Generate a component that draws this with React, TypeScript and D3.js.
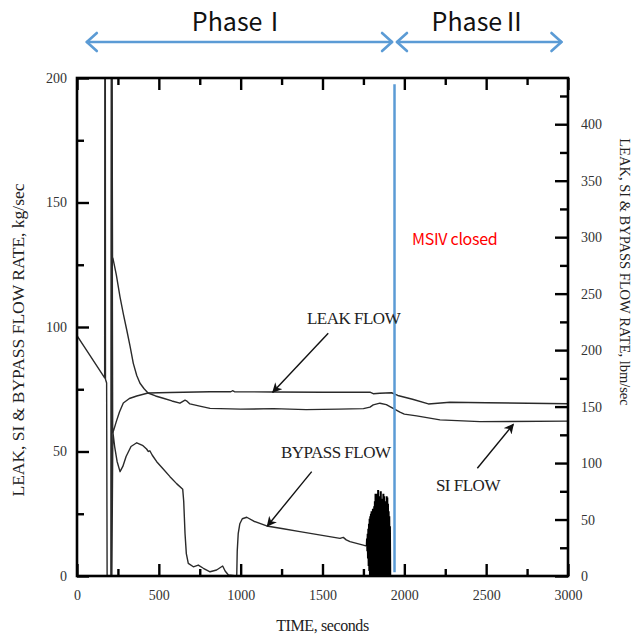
import React, { useEffect, useRef } from 'react';
import * as d3 from 'd3';

const KG_TO_LBM = 2.20462;

// [time s, flow kg/s]
const leakFlow: [number, number][] = [
  [0, 96.5], [60, 90.5], [120, 84.5], [165, 80], [169, 79.5], [170, 205], [173, 205], [174, 79],
  [181, 77.5], [184, 0], [208, 0], [210, 205], [213, 205], [218, 57.5], [224, 58.5], [240, 62],
  [260, 66], [283, 69.5], [320, 71.3], [365, 72.3], [434, 73.5], [568, 73.7], [813, 74], [940, 74],
  [950, 74.4], [962, 74], [1200, 73.9], [1500, 73.8], [1790, 73.8], [1810, 73.2], [1850, 73.4],
  [1922, 73.6], [1960, 72.5], [2050, 71], [2147, 69.1], [2279, 69.8], [2500, 69.6], [3000, 69.2],
];

const siFlow: [number, number][] = [
  [0, 0], [209, 0], [211, 205], [214, 205], [217, 128], [220, 127.5], [240, 121], [263, 112],
  [284, 105], [304, 98.8], [325, 92], [344, 85.4], [365, 80.5], [385, 77.4], [410, 75.2], [434, 73.5],
  [480, 72.3], [527, 71.4], [580, 70.3], [629, 69.4], [660, 70.6], [672, 70.2], [690, 69.1],
  [750, 68.2], [813, 67.3], [1000, 67], [1200, 67.2], [1400, 66.8], [1600, 67], [1750, 67.2],
  [1790, 67.8], [1810, 68.7], [1851, 69.4], [1890, 68.8], [1912, 68], [1940, 67], [1973, 65.8],
  [2000, 65], [2075, 64.3], [2218, 62.7], [2462, 62], [3000, 62.2],
];

const bypassFlow: [number, number][] = [
  [0, 0], [213, 0], [219, 58], [230, 52], [245, 46], [263, 41.9], [280, 44], [300, 48], [330, 52],
  [365, 53.5], [400, 52.5], [425, 51], [436, 50], [445, 50.3], [460, 48.5], [487, 45.9], [520, 43.5],
  [568, 39.9], [610, 37], [646, 34.8], [652, 30], [660, 17.1], [668, 9], [680, 5.1], [711, 3.7],
  [741, 4.4], [772, 3.1], [813, 1.7], [853, 2.4], [890, 4], [905, 2], [925, 0.4], [976, 0], [979, 10],
  [985, 17], [995, 21], [1010, 23], [1037, 23.6], [1080, 22], [1159, 20.1], [1260, 19], [1362, 17.8],
  [1480, 16.5], [1607, 15.1], [1627, 15.5], [1645, 14.5], [1668, 13.8], [1749, 12.4], [1770, 12],
];

// the black band of oscillations just before MSIV closure
const bypassOscillation: [number, number][] = [
  [1770, 12], [1772, 15], [1774, 10], [1776, 17], [1778, 7], [1780, 19], [1782, 4], [1784, 21],
  [1786, 2], [1788, 23], [1790, 0], [1792, 24], [1794, 0], [1796, 25], [1798, 0], [1800, 26],
  [1802, 0], [1804, 26], [1806, 0], [1808, 27], [1810, 0], [1812, 27], [1814, 0], [1816, 28],
  [1818, 0], [1820, 30], [1822, 0], [1824, 33], [1826, 0], [1828, 31], [1830, 0], [1832, 29],
  [1834, 0], [1836, 33], [1838, 0], [1840, 34.5], [1842, 0], [1844, 30], [1846, 0], [1848, 28],
  [1850, 0], [1852, 32], [1854, 0], [1856, 34], [1858, 0], [1860, 30], [1862, 0], [1864, 28],
  [1866, 0], [1868, 31], [1870, 0], [1872, 33], [1874, 0], [1876, 32], [1878, 0], [1880, 28],
  [1882, 0], [1884, 27], [1886, 0], [1888, 30], [1890, 0], [1892, 32], [1894, 0], [1896, 31.5],
  [1898, 0], [1900, 29], [1902, 0], [1904, 26], [1906, 0], [1908, 24], [1910, 0], [1912, 20],
  [1914, 0],
];

const bypassTail: [number, number][] = [[1914, 0], [3000, 0]];

const xTicks = [0, 500, 1000, 1500, 2000, 2500, 3000];
const xMinorTicks = [250, 750, 1250, 1750, 2250, 2750];
const yTicks = [0, 50, 100, 150, 200];
const yMinorTicks = [25, 75, 125, 175];
const y2Ticks = [0, 50, 100, 150, 200, 250, 300, 350, 400];
const y2MinorTicks = [25, 75, 125, 175, 225, 275, 325, 375, 425];

const msivTime = 1940;
const phaseLabels = ['Phase Ⅰ', 'Phase Ⅱ'];
const phaseStart = [60, 1955];
const phaseEnd = [1925, 2960];

// curve annotations: text anchor and arrow (from -> to), in data units
const noteText = ['LEAK FLOW', 'BYPASS FLOW', 'SI FLOW'];
const noteAt: [number, number][] = [[1405, 101.2], [1246, 47.4], [2193, 34.1]];
const arrowFrom: [number, number][] = [[1535, 97.5], [1434, 41.9], [2446, 43.3]];
const arrowTo: [number, number][] = [[1196, 73.8], [1163, 20.1], [2666, 60.9]];

const App = () => {
  const svgRef = useRef<SVGSVGElement>(null);

  useEffect(() => {
    const svg = d3.select(svgRef.current);
    svg.selectAll('*').remove();

    const width = 644;
    const height = 637;
    const margin = { top: 78, right: 76, bottom: 61, left: 77 };
    const serif = "'Liberation Serif', 'Times New Roman', serif";
    const sans = "'Noto Sans CJK KR', 'Noto Sans', sans-serif";
    const ink = '#2a2a2a';
    const blue = '#5b9bd5';

    const x = d3.scaleLinear().domain([0, 3000]).range([margin.left, width - margin.right]);
    const y = d3.scaleLinear().domain([0, 200]).range([height - margin.bottom, margin.top]);
    const y2 = d3.scaleLinear().domain([0, 200 * KG_TO_LBM]).range([height - margin.bottom, margin.top]);

    svg.attr('width', width).attr('height', height);

    const defs = svg.append('defs');
    defs.append('clipPath').attr('id', 'plot-clip')
      .append('rect')
      .attr('x', margin.left).attr('y', margin.top)
      .attr('width', width - margin.left - margin.right)
      .attr('height', height - margin.top - margin.bottom);
    defs.append('marker')
      .attr('id', 'head')
      .attr('viewBox', '0 0 10 10')
      .attr('refX', 9).attr('refY', 5)
      .attr('markerWidth', 10).attr('markerHeight', 10)
      .attr('markerUnits', 'userSpaceOnUse')
      .attr('orient', 'auto')
      .append('path')
      .attr('d', 'M0,0 L10,5 L0,10 L3,5 Z')
      .attr('fill', '#111');

    // curves
    const line = d3.line<[number, number]>().x(d => x(d[0])).y(d => y(d[1]));
    const curves = svg.append('g').attr('clip-path', 'url(#plot-clip)');
    [leakFlow, siFlow, bypassFlow, bypassTail].forEach(data => {
      curves.append('path')
        .datum(data)
        .attr('d', line)
        .attr('fill', 'none')
        .attr('stroke', ink)
        .attr('stroke-width', 1.4)
        .attr('stroke-linejoin', 'round');
    });
    curves.append('path')
      .datum(bypassOscillation)
      .attr('d', line)
      .attr('fill', 'none')
      .attr('stroke', '#000')
      .attr('stroke-width', 2)
      .attr('stroke-linejoin', 'miter');

    // MSIV closure marker
    svg.append('line')
      .attr('x1', x(msivTime)).attr('x2', x(msivTime))
      .attr('y1', y(197.5)).attr('y2', y(1.5))
      .attr('stroke', blue).attr('stroke-width', 2.5);

    svg.append('text')
      .attr('x', x(2047)).attr('y', y(132.9))
      .attr('font-family', sans).attr('font-size', 16)
      .attr('fill', '#ff0000')
      .attr('letter-spacing', -0.3)
      .text('MSIV closed');

    // annotations
    noteText.forEach((t, i) => {
      svg.append('text')
        .attr('x', x(noteAt[i][0])).attr('y', y(noteAt[i][1]))
        .attr('font-family', serif).attr('font-size', 17)
        .attr('fill', '#222')
        .attr('letter-spacing', -0.5)
        .text(t);
      svg.append('line')
        .attr('x1', x(arrowFrom[i][0])).attr('y1', y(arrowFrom[i][1]))
        .attr('x2', x(arrowTo[i][0])).attr('y2', y(arrowTo[i][1]))
        .attr('stroke', '#111').attr('stroke-width', 1.4)
        .attr('marker-end', 'url(#head)');
    });

    // axes, ticks pointing inward
    const styleAxis = (g: any) => {
      g.select('.domain').remove();
      g.selectAll('.tick line').attr('stroke', '#000').attr('stroke-width', 2.4);
      g.selectAll('.tick text').attr('font-family', serif).attr('font-size', 14).attr('fill', '#333');
    };
    const bottom = height - margin.bottom;
    const right = width - margin.right;

    svg.append('g').attr('transform', `translate(0,${bottom})`)
      .call(d3.axisBottom(x).tickValues(xTicks).tickSize(-12).tickPadding(14).tickFormat(d3.format('d')))
      .call(styleAxis);
    svg.append('g').attr('transform', `translate(0,${bottom})`)
      .call(d3.axisBottom(x).tickValues(xMinorTicks).tickSize(-7).tickFormat(() => ''))
      .call(styleAxis);
    svg.append('g').attr('transform', `translate(0,${margin.top})`)
      .call(d3.axisTop(x).tickValues(xTicks).tickSize(-12).tickFormat(() => ''))
      .call(styleAxis);
    svg.append('g').attr('transform', `translate(0,${margin.top})`)
      .call(d3.axisTop(x).tickValues(xMinorTicks).tickSize(-7).tickFormat(() => ''))
      .call(styleAxis);

    svg.append('g').attr('transform', `translate(${margin.left},0)`)
      .call(d3.axisLeft(y).tickValues(yTicks).tickSize(-12).tickPadding(10).tickFormat(d3.format('d')))
      .call(styleAxis);
    svg.append('g').attr('transform', `translate(${margin.left},0)`)
      .call(d3.axisLeft(y).tickValues(yMinorTicks).tickSize(-7).tickFormat(() => ''))
      .call(styleAxis);

    svg.append('g').attr('transform', `translate(${right},0)`)
      .call(d3.axisRight(y2).tickValues(y2Ticks).tickSize(-13).tickPadding(13).tickFormat(d3.format('d')))
      .call(styleAxis);
    svg.append('g').attr('transform', `translate(${right},0)`)
      .call(d3.axisRight(y2).tickValues(y2MinorTicks).tickSize(-8).tickFormat(() => ''))
      .call(styleAxis);

    svg.append('rect')
      .attr('x', margin.left).attr('y', margin.top)
      .attr('width', right - margin.left).attr('height', bottom - margin.top)
      .attr('fill', 'none').attr('stroke', '#000').attr('stroke-width', 2.6);

    // axis titles
    svg.append('text')
      .attr('x', (margin.left + right) / 2).attr('y', 631)
      .attr('text-anchor', 'middle')
      .attr('font-family', serif).attr('font-size', 16).attr('fill', '#222')
      .attr('letter-spacing', -0.4)
      .text('TIME, seconds');

    svg.append('text')
      .attr('transform', `translate(24,340) rotate(-90)`)
      .attr('text-anchor', 'middle')
      .attr('font-family', serif).attr('font-size', 17.5).attr('fill', '#222')
      .text('LEAK, SI & BYPASS FLOW RATE, kg/sec');

    svg.append('text')
      .attr('transform', `translate(620,272) rotate(90)`)
      .attr('text-anchor', 'middle')
      .attr('font-family', serif).attr('font-size', 14.5).attr('fill', '#222')
      .text('LEAK, SI & BYPASS FLOW RATE, lbm/sec');

    // phase arrows
    const phaseY = 42;
    phaseLabels.forEach((label, i) => {
      const x0 = x(phaseStart[i]);
      const x1 = x(phaseEnd[i]);
      const g = svg.append('g').attr('stroke', blue).attr('stroke-width', 2.6).attr('fill', 'none')
        .attr('stroke-linecap', 'round').attr('stroke-linejoin', 'round');
      g.append('line').attr('x1', x0).attr('x2', x1).attr('y1', phaseY).attr('y2', phaseY);
      g.append('path').attr('d', `M${x0 + 10},${phaseY - 9} L${x0},${phaseY} L${x0 + 10},${phaseY + 9}`);
      g.append('path').attr('d', `M${x1 - 10},${phaseY - 9} L${x1},${phaseY} L${x1 - 10},${phaseY + 9}`);
      svg.append('text')
        .attr('x', (x0 + x1) / 2).attr('y', 31)
        .attr('text-anchor', 'middle')
        .attr('font-family', sans).attr('font-size', 25).attr('fill', '#111')
        .attr('word-spacing', -6)
        .text(label);
    });
  }, []);

  return <svg ref={svgRef} style={{ position: 'absolute', left: 0, top: 0 }}></svg>;
};

export default App;
